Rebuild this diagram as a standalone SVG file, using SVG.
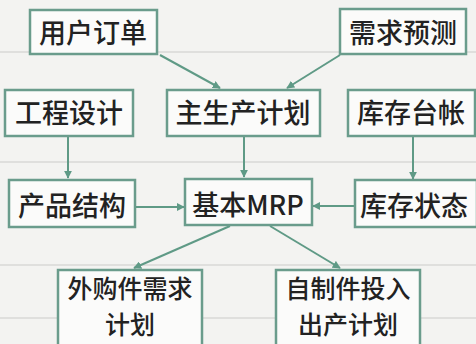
<svg xmlns="http://www.w3.org/2000/svg" width="476" height="344" viewBox="0 0 476 344">
<style>
.box{fill:#fbfbfa;stroke:#6a9c8c;stroke-width:2.5}
.t{font-family:"Noto Sans CJK SC","Noto Sans CJK JP",sans-serif;font-size:27px;font-weight:500;fill:#222;text-anchor:middle}
.s{font-size:25px}
.c{stroke:#5f9a86;stroke-width:2;fill:none;marker-end:url(#ah)}
</style>
<defs>
<marker id="ah" viewBox="0 0 10 10" refX="9" refY="5" markerWidth="8" markerHeight="8" orient="auto" markerUnits="userSpaceOnUse">
<path d="M0,0 L10,5 L0,10 z" fill="#5f9a86"/>
</marker>
</defs>
<rect width="476" height="344" fill="#f3f3f1"/>
<g stroke="#d8d8d6" stroke-width="1.5">
<line x1="0" y1="52" x2="476" y2="52"/>
<line x1="0" y1="162" x2="476" y2="162"/>
<line x1="0" y1="265" x2="476" y2="265"/>
<line x1="0" y1="318" x2="476" y2="318"/>
</g>
<g id="connectors">
<line class="c" x1="160" y1="55" x2="220" y2="88"/>
<line class="c" x1="340" y1="55" x2="287" y2="88"/>
<line class="c" x1="68" y1="137" x2="68" y2="178"/>
<line class="c" x1="244" y1="137" x2="244" y2="177"/>
<line class="c" x1="413" y1="137" x2="413" y2="179"/>
<line class="c" x1="136" y1="207" x2="184" y2="207"/>
<line class="c" x1="354" y1="206" x2="313" y2="206"/>
<line class="c" x1="230" y1="226" x2="134" y2="268"/>
<line class="c" x1="270" y1="226" x2="340" y2="268"/>
</g>
<g id="n1"><rect class="box" x="30" y="10" width="127" height="44"/><text class="t" x="93" y="43">用户订单</text></g>
<g id="n2"><rect class="box" x="340" y="9" width="126" height="45"/><text class="t" x="403" y="43">需求预测</text></g>
<g id="n3"><rect class="box" x="5" y="90" width="128" height="46"/><text class="t" x="69" y="123">工程设计</text></g>
<g id="n4"><rect class="box" x="167" y="90" width="153" height="46"/><text class="t" x="243" y="123">主生产计划</text></g>
<g id="n5"><rect class="box" x="348" y="90" width="127" height="46"/><text class="t" x="411" y="123">库存台帐</text></g>
<g id="n6"><rect class="box" x="9" y="180" width="126" height="47"/><text class="t" x="72" y="216">产品结构</text></g>
<g id="n7"><rect class="box" x="185" y="179" width="127" height="46"/><text class="t" x="248" y="215">基本MRP</text></g>
<g id="n8"><rect class="box" x="355" y="180" width="122" height="47"/><text class="t" x="414" y="216">库存状态</text></g>
<g id="n9"><rect class="box" x="58" y="270" width="144" height="80"/><text class="t s" x="130" y="298">外购件需求</text><text class="t s" x="130" y="334">计划</text></g>
<g id="n10"><rect class="box" x="276" y="270" width="144" height="80"/><text class="t s" x="348" y="298">自制件投入</text><text class="t s" x="348" y="334">出产计划</text></g>
</svg>
